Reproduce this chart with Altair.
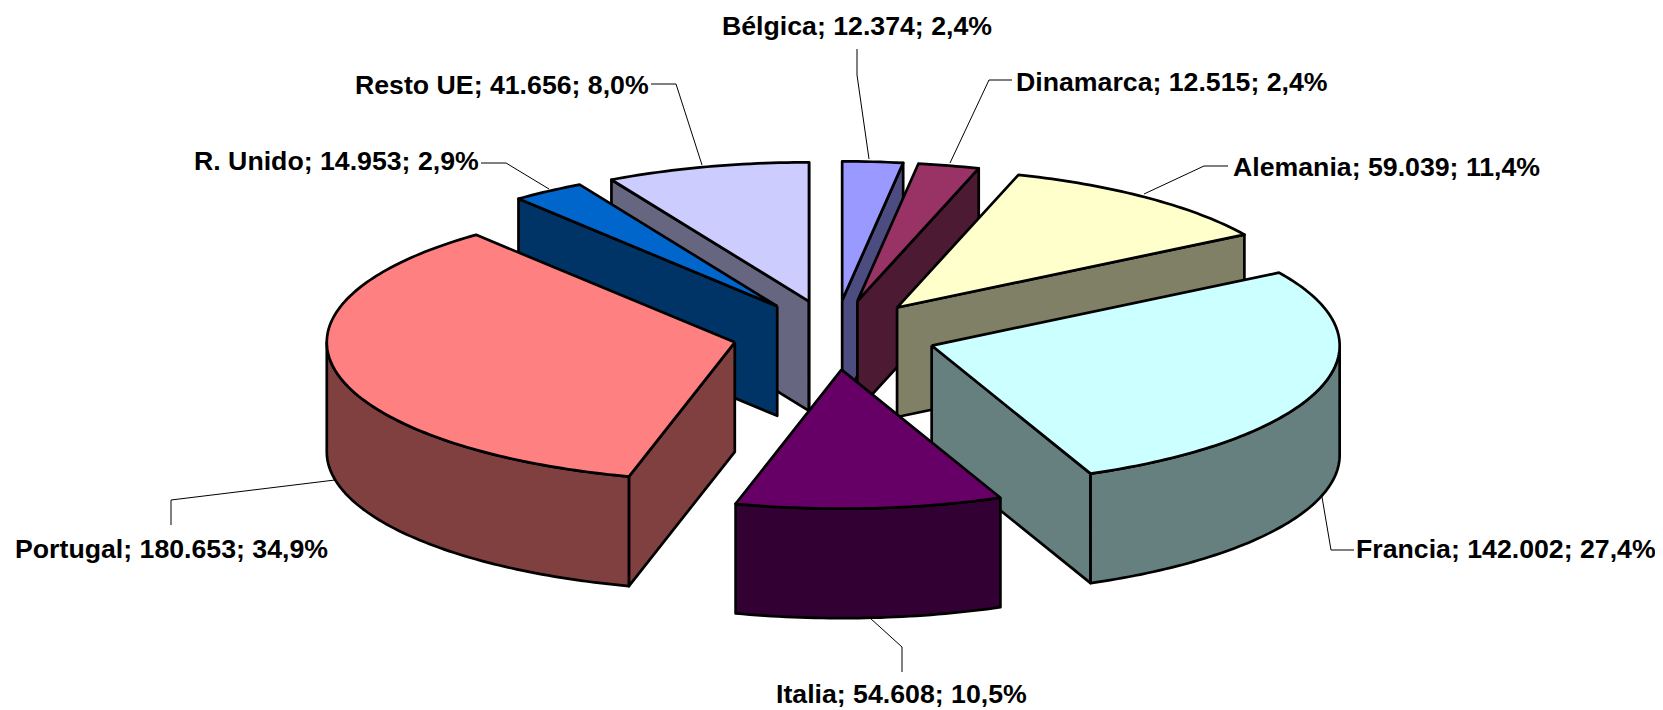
import math
import altair as alt
import pandas as pd

# chart values
names = ["Bélgica", "Dinamarca", "Alemania", "Francia", "Italia", "Portugal", "R. Unido", "Resto UE"]
values = [12374, 12515, 59039, 142002, 54608, 180653, 14953, 41656]
shares = ["2,4%", "2,4%", "11,4%", "27,4%", "10,5%", "34,9%", "2,9%", "8,0%"]
tops = ["#9999FF", "#993366", "#FFFFCC", "#CCFFFF", "#660066", "#FF8080", "#0066CC", "#CCCCFF"]
walls = ["#4C4C80", "#4D1A33", "#808066", "#668080", "#330033", "#804040", "#003366", "#666680"]
draw_order = [7, 0, 1, 6, 2, 5, 3, 4]

# label anchors and leader lines, in image pixels
label_x = [722, 1016, 1233, 1356, 776, 15, 194, 355]
label_y = [27, 83, 168, 550, 695, 550, 162, 86]
leaders = [
    [(857, 49), (857, 75), (869, 159)],
    [(1012, 80), (989, 80), (950, 163)],
    [(1228, 166), (1204, 166), (1144, 194)],
    [(1354, 550), (1331, 550), (1322, 497)],
    [(902, 672), (902, 647), (870, 618)],
    [(171, 525), (171, 500), (335, 480)],
    [(481, 163), (506, 163), (549, 189)],
    [(651, 84), (676, 84), (702, 165)],
]

# pie projection
CX, CY, RX, RY, EXPLODE, DEPTH = 834.5, 335.0, 408.0, 139.0, 102.0, 109.5
W, H = 1647, 702
xs = alt.Scale(domain=[8, 8 + W], nice=False, zero=False)
ys = alt.Scale(domain=[8 + H, 8], nice=False, zero=False)


def face(points, fill=None, width=2.7):
    df = pd.DataFrame({"x": [p[0] for p in points], "y": [p[1] for p in points], "o": range(len(points))})
    kw = {"fill": fill} if fill else {}
    return alt.Chart(df).mark_line(stroke="black", strokeWidth=width, strokeJoin="round", clip=False, **kw).encode(
        x=alt.X("x:Q", scale=xs, axis=None),
        y=alt.Y("y:Q", scale=ys, axis=None),
        order=alt.Order("o:Q"),
    )


total = sum(values)
layers = []
start = 0.0
spans = []
for v in values:
    spans.append((start, start + 360.0 * v / total))
    start += 360.0 * v / total

for i in draw_order:
    a0, a1 = spans[i]
    mid = math.radians((a0 + a1) / 2)
    ax = CX + EXPLODE * math.sin(mid)
    ay = CY - EXPLODE * math.cos(mid) * RY / RX

    def rim(deg):
        t = math.radians(deg)
        return (ax + RX * math.sin(t), ay - RY * math.cos(t))

    def down(p):
        return (p[0], p[1] + DEPTH)

    # radial walls that face the viewer
    if math.sin(math.radians(a0)) < 0:
        p = rim(a0)
        layers.append(face([(ax, ay), p, down(p), (ax, ay + DEPTH), (ax, ay)], walls[i]))
    if math.sin(math.radians(a1)) > 0:
        p = rim(a1)
        layers.append(face([(ax, ay), p, down(p), (ax, ay + DEPTH), (ax, ay)], walls[i]))
    # outer cylinder wall, front half only
    f0, f1 = max(a0, 90.0), min(a1, 270.0)
    if f1 > f0:
        steps = max(int(f1 - f0), 2)
        arc = [rim(f0 + (f1 - f0) * k / steps) for k in range(steps + 1)]
        layers.append(face(arc + [down(p) for p in reversed(arc)] + [arc[0]], walls[i]))
    # top
    steps = max(int(a1 - a0), 2)
    arc = [rim(a0 + (a1 - a0) * k / steps) for k in range(steps + 1)]
    layers.append(face([(ax, ay)] + arc + [(ax, ay)], tops[i]))

for line in leaders:
    layers.append(face(line, None, 1.0))

labels = pd.DataFrame({
    "x": label_x,
    "y": label_y,
    "t": [f"{n}; {v:,}".replace(",", ".") + f"; {s}" for n, v, s in zip(names, values, shares)],
})
layers.append(
    alt.Chart(labels).mark_text(
        font="Liberation Sans", fontWeight="bold", fontSize=26.7, align="left", baseline="middle", color="black"
    ).encode(
        x=alt.X("x:Q", scale=xs, axis=None),
        y=alt.Y("y:Q", scale=ys, axis=None),
        text="t:N",
    )
)

chart = alt.layer(*layers).properties(
    width=W, height=H, padding=0, autosize=alt.AutoSizeParams(type="none"), background="white"
).configure_view(stroke=None)

chart.save("out.html", embed_options={"renderer": "svg", "actions": False})
